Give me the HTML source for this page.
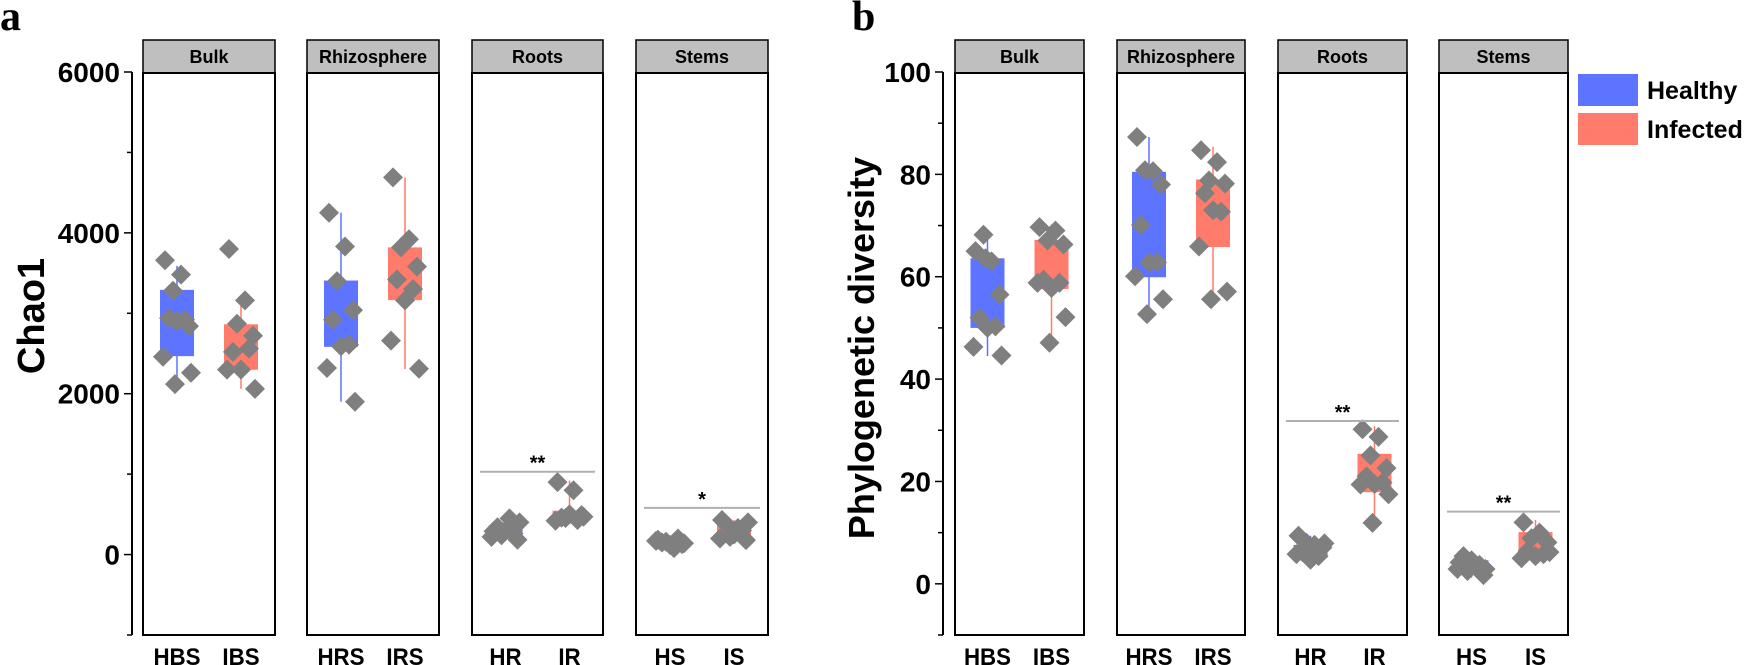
<!DOCTYPE html>
<html><head><meta charset="utf-8"><style>
html,body{margin:0;padding:0;background:#fff;}
svg{display:block;font-family:"Liberation Sans",Arial,sans-serif;}
</style></head><body>
<svg id="chart" width="1747" height="665" viewBox="0 0 1747 665"></svg>
<script>
const groupsA = ["HBS","IBS","HRS","IRS","HR","IR","HS","IS"];
const facetNames = ["Bulk","Rhizosphere","Roots","Stems"];
// Panel a: Chao1 [q1,q3,whiskerLow,whiskerHigh]
const boxA = [[2467,3291,2113,3590],[2298,2863,2060,3150],[2583,3407,1902,4252],[3164,3819,2308,4686],
              [200,330,170,450],[430,545,400,920],[100,200,80,230],[220,370,180,430]];
const ptsA = [[3660,3480,3280,2840,2940,2920,2900,2460,2260,2120],
              [3800,3160,2870,2720,2520,2560,2300,2300,2060],
              [4250,3830,3400,3040,2920,2610,2590,2320,1900],
              [4690,3920,3820,3580,3420,3300,3160,2660,2310],
              [290,450,240,185,340,260,300,220,400],
              [900,800,455,490,460,430,500,420,470],
              [185,80,160,130,150,200,120,170,140],
              [430,330,220,180,380,300,250,200,400]];
const sigA = [[2,1030,"**"],[3,580,"*"]];
// Panel b: Phylogenetic diversity
const boxB = [[50.0,63.6,44.5,68.3],[57.6,67.2,47.1,70.2],[59.9,80.5,52.5,87.3],[65.8,79.0,54.9,85.4],
              [5.1,7.6,4.2,9.4],[17.9,25.4,11.9,30.8],[2.5,4.6,1.2,5.8],[5.4,10.1,4.6,12.5]];
const ptsB = [[65,63,68.2,56.5,52,50.3,50,46.3,44.6,63.6],
              [69.7,69,67.1,66.3,59.4,58.8,57.8,58.8,52.1,47.1],
              [87.3,80.6,80.8,78,70.1,62.8,62.8,60.1,55.6,52.7],
              [84.7,82.4,78.8,78.2,76.3,72.7,73,65.9,57.1,55.6],
              [9.4,7.6,8,7.1,6.2,5.4,4.7,5.8,7.9,6.6],
              [30.2,28.7,25.1,22.6,21,19.8,19.5,19.4,17.5,11.9],
              [4.2,3.3,2.5,1.7,5.4,3.7,4.6,2.9,2.9],
              [12,10,8.9,8.1,6.4,5.8,5.4,5,6.2]];
const sigB = [[2,31.8,"**"],[3,14.1,"**"]];
const ticksA = [-1000,0,1000,2000,3000,4000,5000,6000];
const ticksB = [-10,0,10,20,30,40,50,60,70,80,90,100];

const NS="http://www.w3.org/2000/svg";
const svg=document.getElementById('chart');
function mk(tag,attrs,parent,text){const e=document.createElementNS(NS,tag);for(const k in attrs)e.setAttribute(k,attrs[k]);if(text!==undefined)e.textContent=text;(parent||svg).appendChild(e);return e;}
const blue="#5c74ff", red="#ff7b6b", gray="#7f7f7f";
const jit=[-12,4,-4,12,-8,8,0,-14,14,-2];

function panel(cfg){
  const g=mk('g',{});
  
  
  const y=v=>cfg.top+(cfg.max-v)/(cfg.max-cfg.min)*(cfg.bottom-cfg.top);
  const ax=mk('line',{x1:cfg.axisX,y1:cfg.top,x2:cfg.axisX,y2:cfg.bottom,stroke:'#000','stroke-width':2},g);
  
  
  cfg.ticks.forEach((t,i)=>{
    const major=(t%cfg.majorStep===0)&&t>=0;
    const tl=mk('line',{x1:cfg.axisX-(major?8:5),y1:y(t),x2:cfg.axisX,y2:y(t),stroke:'#000','stroke-width':1.5},g);
    
    
    if(major){
      const lb=mk('text',{x:cfg.axisX-12,y:y(t)+10,'text-anchor':'end','font-size':28,'font-weight':'bold'},g,String(t));
      
      
    }
  });
  const yt=mk('text',{x:cfg.titleX,y:cfg.titleY,'text-anchor':'middle','font-size':cfg.titleSize,'font-weight':'bold',transform:`rotate(-90 ${cfg.titleX} ${cfg.titleY})`},g,cfg.title);
  
  
  const pl=mk('text',{x:cfg.letterX,y:30,'font-size':42,'font-weight':'bold','font-family':'"Liberation Serif",serif'},g,cfg.letter);
  
  
  cfg.facets.forEach((f,fi)=>{
    const fg=mk('g',{},g);
    
    
    const st=mk('rect',{x:f[0],y:40,width:f[1]-f[0],height:33,fill:'#bfbfbf',stroke:'#000','stroke-width':1.5},fg);
    
    
    const stt=mk('text',{x:(f[0]+f[1])/2,y:63,'text-anchor':'middle','font-size':18,'font-weight':'bold'},fg,facetNames[fi]);
    
    
    const fr=mk('rect',{x:f[0],y:73,width:f[1]-f[0],height:cfg.bottom-73,fill:'none',stroke:'#000','stroke-width':2},fg);
    
    
    const cx=(f[0]+f[1])/2;
    [0,1].forEach(k=>{
      const gi=fi*2+k, x=cx+(k?32:-32), col=k?red:blue, b=cfg.box[gi];
      const wl=mk('line',{x1:x,y1:y(b[2]),x2:x,y2:y(b[3]),stroke:col,'stroke-width':1.5},fg);
      
      
      const bx=mk('rect',{x:x-17,y:y(b[1]),width:34,height:Math.max(1,y(b[0])-y(b[1])),fill:col},fg);
      
      
      cfg.pts[gi].forEach((v,pi)=>{
        const px=x+jit[pi%jit.length], py=y(v);
        const d=mk('polygon',{points:`${px},${py-10} ${px+10},${py} ${px},${py+10} ${px-10},${py}`,fill:gray},fg);
        
        
      });
      const xl=mk('text',{x:x,y:665,'text-anchor':'middle','font-size':24,'font-weight':'bold',transform:`translate(${x},0) scale(0.93,1) translate(${-x},0)`},g,groupsA[gi]);
      
      
    });
  });
  cfg.sig.forEach(s=>{
    const f=cfg.facets[s[0]];
    const sl=mk('line',{x1:f[0]+8,y1:y(s[1]),x2:f[1]-8,y2:y(s[1]),stroke:'#b0b0b0','stroke-width':2},g);
    
    
    const stx=mk('text',{x:(f[0]+f[1])/2,y:y(s[1])-2,'text-anchor':'middle','font-size':20,'font-weight':'bold'},g,s[2]);
    
    
  });
}
panel({name:'panel-a-chao1',letter:'a',letterX:0,min:-1000,max:6000,majorStep:2000,top:72,bottom:635,axisX:132,
  ticks:ticksA,title:'Chao1',titleSize:38,titleX:44,titleY:316,
  facets:[[143,275],[307,439],[472,603],[636,768]],box:boxA,pts:ptsA,sig:sigA});
panel({name:'panel-b-phylogenetic-diversity',letter:'b',letterX:852,min:-10,max:100,majorStep:20,top:72,bottom:635,axisX:943,
  ticks:ticksB,title:'Phylogenetic diversity',titleSize:36,titleX:874,titleY:348,
  facets:[[955,1084],[1117,1245],[1278,1407],[1439,1568]],box:boxB,pts:ptsB,sig:sigB});
const lg=mk('g',{});


[["Healthy",blue,74],["Infected",red,113]].forEach(l=>{
  const r=mk('rect',{x:1578,y:l[2],width:60,height:32,fill:l[1]},lg);
  
  
  const t=mk('text',{x:1647,y:l[2]+25,'font-size':25,'font-weight':'bold'},lg,l[0]);
  
  
});
</script>
</body></html>
